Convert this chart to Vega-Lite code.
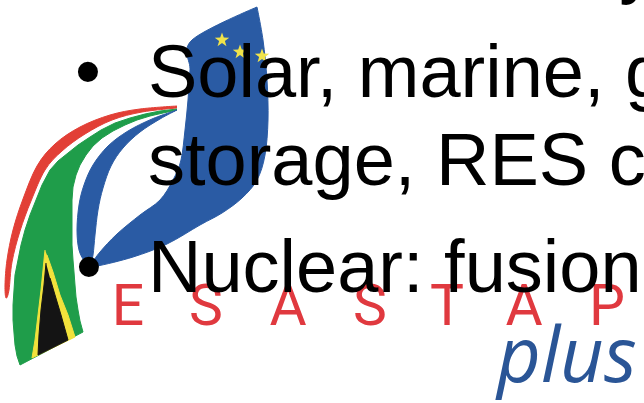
{
  "$schema": "https://vega.github.io/schema/vega-lite/v6.json",
  "width": 644,
  "height": 403,
  "autosize": "none",
  "padding": 0,
  "background": "#ffffff",
  "config": {"view": {"stroke": null}},
  "datasets": {
    "red": [
      {"i":0,"x":177,"y":106},{"i":1,"x":140,"y":109},{"i":2,"x":110,"y":115},{"i":3,"x":80,"y":127},{"i":4,"x":55,"y":144},{"i":5,"x":37,"y":166},{"i":6,"x":23,"y":199},{"i":7,"x":13,"y":230},{"i":8,"x":7,"y":260},{"i":9,"x":5,"y":285},{"i":10,"x":6,"y":298},
      {"i":11,"x":9,"y":290},{"i":12,"x":12,"y":262},{"i":13,"x":20,"y":231},{"i":14,"x":31,"y":201},{"i":15,"x":45,"y":170},{"i":16,"x":62,"y":151},{"i":17,"x":85,"y":134},{"i":18,"x":112,"y":120},{"i":19,"x":142,"y":112},{"i":20,"x":177,"y":108}
    ],
    "green": [
      {"i":0,"x":177,"y":109},{"i":1,"x":160,"y":111},{"i":2,"x":145,"y":114},{"i":3,"x":130,"y":118},{"i":4,"x":115,"y":123},{"i":5,"x":101,"y":130},{"i":6,"x":90,"y":137},{"i":7,"x":78,"y":145},{"i":8,"x":68,"y":153},{"i":9,"x":58,"y":161},{"i":10,"x":50,"y":170},{"i":11,"x":42,"y":185},{"i":12,"x":36,"y":200},{"i":13,"x":30,"y":215},{"i":14,"x":25,"y":230},{"i":15,"x":21,"y":245},{"i":16,"x":18,"y":260},{"i":17,"x":15,"y":275},{"i":18,"x":14,"y":290},{"i":19,"x":13,"y":305},{"i":20,"x":13,"y":320},{"i":21,"x":14,"y":333},{"i":22,"x":15,"y":345},{"i":23,"x":17,"y":356},{"i":24,"x":20,"y":365},
      {"i":25,"x":83,"y":332},{"i":26,"x":80,"y":321},{"i":27,"x":78,"y":310},{"i":28,"x":76,"y":297},{"i":29,"x":75,"y":285},{"i":30,"x":74,"y":272},{"i":31,"x":73,"y":260},{"i":32,"x":72,"y":245},{"i":33,"x":72,"y":230},{"i":34,"x":72,"y":215},{"i":35,"x":72,"y":200},{"i":36,"x":73,"y":187},{"i":37,"x":76,"y":175},{"i":38,"x":80,"y":165},{"i":39,"x":86,"y":155},{"i":40,"x":93,"y":146},{"i":41,"x":102,"y":138},{"i":42,"x":113,"y":131},{"i":43,"x":125,"y":125},{"i":44,"x":137,"y":120},{"i":45,"x":150,"y":116},{"i":46,"x":163,"y":113},{"i":47,"x":177,"y":110}
    ],
    "yellow": [
      {"i":0,"x":45,"y":250},{"i":1,"x":43,"y":270},{"i":2,"x":41,"y":290},{"i":3,"x":38,"y":315},{"i":4,"x":35,"y":340},{"i":5,"x":32,"y":358},
      {"i":6,"x":75,"y":337},{"i":7,"x":68,"y":315},{"i":8,"x":60,"y":295},{"i":9,"x":53,"y":272},{"i":10,"x":47,"y":255}
    ],
    "black": [
      {"i":0,"x":46,"y":263},{"i":1,"x":44,"y":285},{"i":2,"x":41,"y":310},{"i":3,"x":39,"y":335},{"i":4,"x":38,"y":355},
      {"i":5,"x":68,"y":340},{"i":6,"x":61,"y":315},{"i":7,"x":55,"y":295},{"i":8,"x":50,"y":278}
    ],
    "blueInner": [
      {"i":0,"x":177,"y":110},{"i":1,"x":152,"y":119},{"i":2,"x":128,"y":131},{"i":3,"x":108,"y":146},{"i":4,"x":93,"y":165},{"i":5,"x":84,"y":185},{"i":6,"x":79,"y":205},{"i":7,"x":77,"y":230},{"i":8,"x":79,"y":250},{"i":9,"x":85,"y":262},{"i":10,"x":90,"y":266},
      {"i":11,"x":93,"y":255},{"i":12,"x":95,"y":235},{"i":13,"x":98,"y":210},{"i":14,"x":103,"y":188},{"i":15,"x":111,"y":166},{"i":16,"x":123,"y":148},{"i":17,"x":140,"y":132},{"i":18,"x":160,"y":119},{"i":19,"x":177,"y":110}
    ],
    "blueMain": [
      {"i":0,"x":257,"y":7},{"i":1,"x":263,"y":40},{"i":2,"x":267,"y":80},{"i":3,"x":268,"y":120},{"i":4,"x":265,"y":155},{"i":5,"x":257,"y":180},{"i":6,"x":242,"y":198},{"i":7,"x":222,"y":213},{"i":8,"x":200,"y":225},{"i":9,"x":167,"y":244},{"i":10,"x":133,"y":257},{"i":11,"x":97,"y":266},
      {"i":12,"x":92,"y":264},{"i":13,"x":100,"y":252},{"i":14,"x":117,"y":234},{"i":15,"x":140,"y":215},{"i":16,"x":160,"y":200},{"i":17,"x":173,"y":180},{"i":18,"x":181,"y":160},{"i":19,"x":185,"y":130},{"i":20,"x":188,"y":100},{"i":21,"x":190,"y":70},{"i":22,"x":192,"y":40},{"i":23,"x":257,"y":7}
    ],
    "stars": [
      {"x":222,"y":40},{"x":240,"y":52},{"x":262,"y":56}
    ],
    "logoLetters": [
      {"t":"E","x":128,"y":325},{"t":"S","x":206,"y":325},{"t":"A","x":288,"y":325},{"t":"S","x":370,"y":325},{"t":"T","x":447,"y":325},{"t":"A","x":524,"y":325},{"t":"P","x":607,"y":325}
    ],
    "plus": [
      {"t":"plus","x":497,"y":382}
    ],
    "lines": [
      {"t":"efficiency","x":349,"y":-10},
      {"t":"•","x":75,"y":97},
      {"t":"Solar, marine, g","x":148,"y":97},
      {"t":"storage, RES c","x":148,"y":185},
      {"t":"•","x":76,"y":292},
      {"t":"Nuclear: fusion","x":148,"y":292}
    ]
  },
  "encoding": {
    "x": {"field": "x", "type": "quantitative", "scale": {"domain": [0, 644], "nice": false, "zero": false}, "axis": null},
    "y": {"field": "y", "type": "quantitative", "scale": {"domain": [0, 403], "nice": false, "zero": false, "reverse": true}, "axis": null}
  },
  "layer": [
    {"data": {"name": "red"}, "mark": {"type": "line", "interpolate": "cardinal", "fill": "#e23f36", "stroke": "#e23f36", "strokeWidth": 1, "clip": true}, "encoding": {"order": {"field": "i", "type": "quantitative"}}},
    {"data": {"name": "green"}, "mark": {"type": "line", "interpolate": "linear", "fill": "#1f9d4a", "stroke": "#1f9d4a", "strokeWidth": 1, "clip": true}, "encoding": {"order": {"field": "i", "type": "quantitative"}}},
    {"data": {"name": "yellow"}, "mark": {"type": "line", "interpolate": "linear", "fill": "#f2e23c", "stroke": "#f2e23c", "strokeWidth": 1, "clip": true}, "encoding": {"order": {"field": "i", "type": "quantitative"}}},
    {"data": {"name": "black"}, "mark": {"type": "line", "interpolate": "linear", "fill": "#141414", "stroke": "#141414", "strokeWidth": 1, "clip": true}, "encoding": {"order": {"field": "i", "type": "quantitative"}}},
    {"data": {"name": "blueInner"}, "mark": {"type": "line", "interpolate": "cardinal", "fill": "#2a5ba4", "stroke": "#2a5ba4", "strokeWidth": 1, "clip": true}, "encoding": {"order": {"field": "i", "type": "quantitative"}}},
    {"data": {"name": "blueMain"}, "mark": {"type": "line", "interpolate": "cardinal", "fill": "#2a5ba4", "stroke": "#2a5ba4", "strokeWidth": 1, "clip": true}, "encoding": {"order": {"field": "i", "type": "quantitative"}}},
    {"data": {"name": "stars"}, "mark": {"type": "point", "filled": true, "color": "#f0e34a", "opacity": 1, "size": 230, "shape": "M0,-1L0.235,-0.324L0.951,-0.309L0.38,0.124L0.588,0.809L0,0.4L-0.588,0.809L-0.38,0.124L-0.951,-0.309L-0.235,-0.324Z", "clip": true}},
    {"data": {"name": "logoLetters"}, "mark": {"type": "text", "align": "center", "baseline": "alphabetic", "font": "Roboto", "fontWeight": 400, "fontSize": 57, "color": "#e0393f", "clip": true}, "encoding": {"text": {"field": "t"}}},
    {"data": {"name": "plus"}, "mark": {"type": "text", "align": "left", "baseline": "alphabetic", "font": "Open Sans", "fontStyle": "italic", "fontSize": 76, "color": "#2a5596", "clip": true}, "encoding": {"text": {"field": "t"}}},
    {"data": {"name": "lines"}, "mark": {"type": "text", "align": "left", "baseline": "alphabetic", "font": "Liberation Sans", "fontSize": 74, "color": "#000000", "clip": true}, "encoding": {"text": {"field": "t"}}}
  ]
}
